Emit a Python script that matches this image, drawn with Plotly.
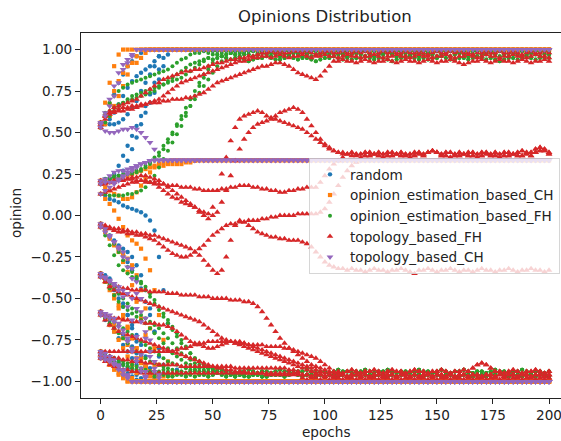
import plotly.graph_objects as go

EPOCH_STEP = 2
N_SAMPLES = 101  # epochs 0..200
SERIES_NAMES = ["random", "opinion_estimation_based_CH", "opinion_estimation_based_FH",
                "topology_based_FH", "topology_based_CH"]
X_TICKS = [0, 25, 50, 75, 100, 125, 150, 175, 200]
Y_TICKS = [-1.0, -0.75, -0.5, -0.25, 0.0, 0.25, 0.5, 0.75, 1.0]

# converged bands (start epoch, values every 2 epochs)
GT_HI = (40, [0.97,0.98,0.98,0.99,0.98,0.99,0.99,0.98,0.99,0.98,
              0.99,0.98,0.98,0.99,0.99,0.98,0.99,0.98,0.98,0.99,
              0.98,0.99,0.99,0.98,0.98,0.99,0.98,0.99,0.99,0.98,
              0.99,0.98,0.98,0.99,0.98,0.99,0.98,0.98,0.99,0.99,
              0.98,0.99,0.98,0.98,0.99,0.98,0.99,0.99,0.98,0.98,
              0.99,0.98,0.99,0.98,0.98,0.99,0.99,0.98,0.99,0.98,
              0.98,0.99,0.98,0.99,0.99,0.98,0.98,0.99,0.98,0.99,
              0.98,0.98,0.99,0.98,0.99,0.98,0.98,0.99,0.98,0.99,
              0.98])
GT_MID = (40, [0.95,0.96,0.96,0.97,0.96,0.97,0.97,0.96,0.97,0.98,
               0.97,0.96,0.97,0.97,0.96,0.97,0.98,0.97,0.96,0.97,
               0.96,0.97,0.97,0.98,0.97,0.96,0.97,0.96,0.97,0.97,
               0.98,0.97,0.96,0.97,0.97,0.96,0.97,0.98,0.97,0.96,
               0.97,0.96,0.97,0.97,0.98,0.97,0.96,0.97,0.96,0.97,
               0.97,0.96,0.97,0.98,0.97,0.96,0.97,0.97,0.96,0.97,
               0.98,0.97,0.96,0.97,0.96,0.97,0.97,0.98,0.97,0.96,
               0.97,0.96,0.97,0.97,0.96,0.97,0.98,0.97,0.96,0.97,
               0.97])
GT_LO = (40, [0.93,0.94,0.94,0.95,0.95,0.94,0.95,0.96,0.95,0.94,
              0.95,0.95,0.94,0.93,0.94,0.95,0.95,0.96,0.95,0.94,
              0.94,0.95,0.96,0.95,0.94,0.95,0.95,0.94,0.93,0.94,
              0.95,0.95,0.96,0.95,0.94,0.95,0.94,0.95,0.95,0.96,
              0.95,0.94,0.95,0.95,0.94,0.93,0.94,0.95,0.95,0.96,
              0.95,0.94,0.95,0.94,0.95,0.95,0.96,0.95,0.94,0.94,
              0.95,0.95,0.94,0.95,0.96,0.95,0.94,0.95,0.94,0.93,
              0.94,0.95,0.95,0.94,0.95,0.96,0.95,0.94,0.95,0.95,
              0.95])
GB_HI = (20, [-0.94,-0.94,-0.95,-0.94,-0.93,-0.94,-0.95,-0.94,-0.94,-0.95,
              -0.94,-0.93,-0.94,-0.94,-0.95,-0.94,-0.94,-0.93,-0.94,-0.95,
              -0.95,-0.94,-0.94,-0.93,-0.94,-0.95,-0.94,-0.94,-0.95,-0.94,
              -0.93,-0.94,-0.94,-0.95,-0.94,-0.94,-0.93,-0.94,-0.95,-0.94,
              -0.94,-0.95,-0.94,-0.93,-0.94,-0.94,-0.95,-0.94,-0.94,-0.93,
              -0.94,-0.95,-0.94,-0.94,-0.93,-0.94,-0.95,-0.94,-0.94,-0.95,
              -0.94,-0.93,-0.94,-0.94,-0.95,-0.94,-0.93,-0.94,-0.95,-0.94,
              -0.94,-0.93,-0.94,-0.95,-0.94,-0.94,-0.95,-0.94,-0.93,-0.94,
              -0.94,-0.95,-0.94,-0.94,-0.93,-0.94,-0.95,-0.94,-0.94,-0.95,
              -0.94])
GB_LO = (20, [-0.96,-0.96,-0.97,-0.96,-0.96,-0.97,-0.97,-0.96,-0.96,-0.97,
              -0.96,-0.97,-0.96,-0.96,-0.97,-0.96,-0.95,-0.96,-0.97,-0.96,
              -0.97,-0.96,-0.96,-0.97,-0.96,-0.96,-0.97,-0.97,-0.96,-0.96,
              -0.96,-0.97,-0.96,-0.95,-0.96,-0.97,-0.96,-0.96,-0.97,-0.96,
              -0.97,-0.96,-0.96,-0.97,-0.96,-0.97,-0.96,-0.96,-0.95,-0.96,
              -0.96,-0.97,-0.96,-0.96,-0.97,-0.96,-0.97,-0.96,-0.96,-0.97,
              -0.96,-0.96,-0.97,-0.96,-0.95,-0.96,-0.97,-0.96,-0.96,-0.97,
              -0.97,-0.96,-0.96,-0.97,-0.96,-0.96,-0.97,-0.96,-0.96,-0.95,
              -0.96,-0.97,-0.96,-0.96,-0.97,-0.96,-0.96,-0.97,-0.96,-0.96,
              -0.97])
RT_HI = (70, [0.97,0.98,0.98,0.99,0.98,0.99,0.98,0.98,0.99,0.99,
              0.98,0.99,0.98,0.97,0.98,0.99,0.99,0.98,0.98,0.99,
              0.98,0.98,0.99,0.98,0.99,0.98,0.97,0.98,0.99,0.98,
              0.99,0.98,0.98,0.99,0.98,0.98,0.99,0.98,0.97,0.98,
              0.99,0.98,0.98,0.99,0.98,0.99,0.98,0.98,0.97,0.98,
              0.98,0.99,0.98,0.98,0.99,0.98,0.98,0.99,0.98,0.97,
              0.98,0.99,0.98,0.98,0.99,0.98])
RT_MID = (70, [0.95,0.96,0.96,0.95,0.96,0.97,0.96,0.95,0.96,0.96,
               0.97,0.96,0.95,0.96,0.96,0.97,0.96,0.96,0.95,0.96,
               0.97,0.96,0.96,0.95,0.96,0.96,0.97,0.96,0.95,0.96,
               0.96,0.97,0.96,0.96,0.95,0.96,0.97,0.96,0.96,0.95,
               0.96,0.96,0.97,0.96,0.95,0.96,0.96,0.97,0.96,0.95,
               0.96,0.97,0.96,0.96,0.95,0.96,0.96,0.97,0.96,0.96,
               0.95,0.96,0.97,0.96,0.96,0.95])
RT_LO = (70, [0.93,0.94,0.93,0.92,0.93,0.94,0.93,0.93,0.92,0.93,
              0.94,0.93,0.92,0.93,0.93,0.94,0.93,0.92,0.93,0.94,
              0.93,0.93,0.92,0.93,0.94,0.93,0.92,0.93,0.93,0.94,
              0.93,0.92,0.93,0.94,0.93,0.93,0.92,0.93,0.94,0.93,
              0.92,0.93,0.93,0.94,0.93,0.92,0.91,0.92,0.93,0.93,
              0.94,0.93,0.92,0.93,0.94,0.93,0.93,0.92,0.93,0.94,
              0.93,0.92,0.93,0.93,0.94,0.93])
RB_HI = (90, [-0.93,-0.94,-0.93,-0.94,-0.95,-0.94,-0.93,-0.94,-0.94,-0.95,
              -0.94,-0.93,-0.94,-0.95,-0.94,-0.94,-0.93,-0.94,-0.95,-0.94,
              -0.93,-0.94,-0.94,-0.95,-0.94,-0.93,-0.94,-0.94,-0.95,-0.94,
              -0.94,-0.93,-0.94,-0.95,-0.94,-0.94,-0.93,-0.94,-0.92,-0.90,
              -0.89,-0.90,-0.92,-0.94,-0.94,-0.95,-0.94,-0.93,-0.94,-0.95,
              -0.94,-0.94,-0.93,-0.94,-0.95,-0.94])
RB_MID = (90, [-0.96,-0.96,-0.97,-0.96,-0.96,-0.97,-0.96,-0.97,-0.96,-0.96,
               -0.97,-0.96,-0.96,-0.97,-0.96,-0.97,-0.96,-0.96,-0.97,-0.96,
               -0.96,-0.97,-0.96,-0.96,-0.97,-0.96,-0.97,-0.96,-0.96,-0.97,
               -0.96,-0.96,-0.97,-0.96,-0.97,-0.96,-0.96,-0.97,-0.96,-0.96,
               -0.97,-0.96,-0.96,-0.97,-0.96,-0.97,-0.96,-0.96,-0.97,-0.96,
               -0.96,-0.97,-0.96,-0.96,-0.97,-0.96])
RB_LO = (90, [-0.98,-0.99,-0.98,-0.98,-0.99,-0.98,-0.99,-0.98,-0.98,-0.99,
              -0.98,-0.98,-0.99,-0.98,-0.99,-0.98,-0.98,-0.99,-0.98,-0.98,
              -0.99,-0.98,-0.99,-0.98,-0.98,-0.99,-0.98,-0.98,-0.99,-0.98,
              -0.99,-0.98,-0.98,-0.99,-0.98,-0.98,-0.99,-0.98,-0.99,-0.98,
              -0.98,-0.99,-0.98,-0.98,-0.99,-0.98,-0.99,-0.98,-0.98,-0.99,
              -0.98,-0.98,-0.99,-0.98,-0.99,-0.98])
RM_A = (100, [0.37,0.38,0.37,0.38,0.38,0.37,0.38,0.37,0.37,0.38,
              0.38,0.37,0.38,0.37,0.38,0.38,0.37,0.38,0.37,0.37,
              0.38,0.38,0.37,0.38,0.39,0.38,0.37,0.38,0.38,0.37,
              0.38,0.37,0.38,0.38,0.37,0.38,0.38,0.37,0.38,0.37,
              0.38,0.38,0.37,0.38,0.39,0.38,0.38,0.40,0.41,0.39,
              0.38])
RM_B = (100, [0.35,0.36,0.36,0.35,0.36,0.37,0.36,0.36,0.35,0.36,
              0.36,0.37,0.36,0.35,0.36,0.36,0.37,0.36,0.36,0.35,
              0.36,0.37,0.36,0.38,0.39,0.38,0.36,0.36,0.35,0.36,
              0.36,0.37,0.36,0.36,0.35,0.36,0.37,0.36,0.36,0.35,
              0.36,0.36,0.37,0.36,0.36,0.37,0.36,0.38,0.39,0.40,
              0.37])
RN = (100, [-0.32,-0.33,-0.32,-0.33,-0.34,-0.33,-0.32,-0.33,-0.33,-0.34,
            -0.33,-0.32,-0.33,-0.33,-0.34,-0.33,-0.33,-0.32,-0.33,-0.34,
            -0.35,-0.33,-0.33,-0.32,-0.33,-0.34,-0.33,-0.33,-0.32,-0.33,
            -0.34,-0.33,-0.33,-0.34,-0.33,-0.32,-0.33,-0.33,-0.34,-0.33,
            -0.33,-0.32,-0.33,-0.34,-0.33,-0.33,-0.32,-0.33,-0.33,-0.34,
            -0.33])

# (value, n) = value held for n samples; (value, None) = held until epoch 200
RANDOM = [
    [0.56,0.56,0.55,0.55,0.56,0.58,0.61,0.65,0.69,0.75,0.80,0.85,0.90,0.96,(1.0,None)],
    [0.55,0.60,0.67,0.73,0.80,0.85,0.90,0.93,0.96,0.98,(1.0,None)],
    [0.53,0.55,0.58,0.62,0.67,0.72,0.77,0.81,0.84,0.86,0.88,0.90,0.93,0.96,(1.0,None)],
    [0.21,0.22,0.22,0.23,0.24,0.27,0.33,0.40,0.47,0.55,0.62,0.68,0.74,0.82,0.90,0.97,(1.0,None)],
    [0.19,0.20,0.22,0.25,0.30,0.36,0.42,0.48,0.54,0.60,0.66,0.73,0.80,0.88,0.95,(1.0,None)],
    [0.13,0.12,0.10,0.09,0.08,0.06,0.05,0.04,0.03,0.02,0.00,-0.03,-0.09,-0.25,-0.45,-0.65,-0.82,-0.93,(-1.0,None)],
    [-0.05,-0.08,-0.12,-0.16,-0.20,-0.24,-0.28,-0.33,-0.38,-0.44,-0.52,-0.60,-0.70,-0.80,-0.90,-0.96,(-1.0,None)],
    [-0.07,-0.10,-0.13,-0.15,-0.18,-0.20,-0.22,-0.25,-0.30,-0.36,-0.45,-0.56,-0.70,-0.85,-0.95,(-1.0,None)],
    [-0.35,-0.38,-0.42,-0.45,-0.50,-0.55,-0.60,-0.66,-0.72,-0.78,-0.85,-0.92,-0.97,(-1.0,None)],
    [-0.37,-0.36,-0.38,-0.42,-0.47,-0.53,-0.60,-0.68,-0.76,-0.84,-0.91,-0.96,(-1.0,None)],
    [-0.58,-0.60,-0.63,-0.67,-0.70,-0.72,-0.75,-0.79,-0.83,-0.87,-0.91,-0.95,-0.98,(-1.0,None)],
    [-0.60,-0.63,-0.66,-0.70,-0.74,-0.78,-0.82,-0.86,-0.90,-0.94,-0.97,(-1.0,None)],
    [-0.82,-0.83,-0.85,-0.86,-0.88,-0.90,-0.92,-0.94,-0.96,-0.98,(-1.0,None)],
    [-0.84,-0.86,-0.87,-0.89,-0.91,-0.93,-0.95,-0.97,-0.99,(-1.0,None)],
    [-0.86,-0.85,-0.87,-0.90,-0.93,-0.96,-0.98,(-1.0,None)],
]
OPINION_CH = [
    [0.56,0.68,0.80,0.90,0.97,(1.0,None)],
    [0.55,0.60,0.67,0.75,0.81,0.86,0.90,0.92,0.92,0.95,0.98,(1.0,None)],
    [0.53,0.55,0.60,0.66,0.72,0.78,0.85,0.92,0.96,(1.0,None)],
    [0.21,0.20,0.20,0.21,0.22,0.23,0.24,0.25,0.26,0.27,0.28,0.29,0.30,0.30,0.30,0.31,0.31,0.31,0.31,0.32,0.32,0.33,(0.333,None)],
    [0.19,0.17,0.15,0.13,0.12,0.10,0.10,0.11,0.14,0.18,0.22,0.26,0.29,0.31,0.32,0.33,(0.333,None)],
    [0.13,0.10,0.07,0.03,-0.02,-0.07,-0.12,-0.15,-0.17,-0.20,-0.26,-0.33,-0.45,-0.60,-0.75,-0.88,-0.96,(-1.0,None)],
    [-0.05,-0.09,-0.13,-0.17,-0.20,-0.23,-0.26,-0.30,-0.36,-0.45,-0.56,-0.68,-0.80,-0.90,-0.97,(-1.0,None)],
    [-0.07,-0.10,-0.14,-0.18,-0.22,-0.28,-0.34,-0.42,-0.52,-0.62,-0.72,-0.82,-0.90,-0.96,(-1.0,None)],
    [-0.35,-0.40,-0.45,-0.50,-0.56,-0.62,-0.68,-0.74,-0.80,-0.86,-0.92,-0.97,(-1.0,None)],
    [-0.37,-0.39,-0.43,-0.48,-0.54,-0.60,-0.67,-0.74,-0.80,-0.86,-0.91,-0.94,-0.97,(-1.0,None)],
    [-0.58,-0.62,-0.66,-0.70,-0.75,-0.80,-0.85,-0.90,-0.95,(-1.0,None)],
    [-0.60,-0.60,-0.62,-0.66,-0.70,-0.74,-0.78,-0.82,-0.86,-0.89,-0.91,-0.94,-0.97,(-1.0,None)],
    [-0.82,-0.86,-0.90,-0.93,-0.96,-0.98,(-1.0,None)],
    [-0.84,-0.86,-0.88,-0.90,-0.93,-0.95,-0.97,-0.98,(-1.0,None)],
    [-0.86,-0.87,-0.90,-0.92,-0.95,-0.98,(-1.0,None)],
]
OPINION_FH = [
    ([0.56,0.60,0.63,0.65,0.67,0.68,0.69,0.70,0.71,0.72,0.73,0.74,0.75,0.77,0.79,0.81,0.83,0.85,0.87,0.89,
      0.91,0.92,0.93,0.94,0.95], GT_MID),
    ([0.55,0.62,0.68,0.72,0.75,0.77,0.79,0.80,0.81,0.82,0.83,0.84,0.85,0.86,0.87,0.88,0.90,0.92,0.94,0.95], GT_HI),
    ([0.53,0.56,0.60,0.63,0.66,0.68,0.70,0.72,0.73,0.74,0.75,0.76,0.77,0.78,0.79,0.80,0.81,0.82,0.83,0.85,
      0.87,0.89,0.91,0.93], GT_LO),
    ([0.21,0.22,0.23,0.24,0.24,0.25,0.25,0.26,0.27,0.28,0.30,0.32,0.35,0.38,0.42,0.46,0.50,0.54,0.58,0.62,
      0.66,0.70,0.74,0.78,0.82,0.86,0.90,0.93,0.95], GT_HI),
    ([0.19,0.20,0.22,0.23,0.24,0.24,0.25,0.25,0.26,0.27,0.29,0.31,0.33,0.36,0.40,0.44,0.49,0.55,0.60,0.65,
      0.70,0.75,0.80,0.85,0.90,0.94], GT_MID),
    ([0.13,0.13,0.12,0.12,0.12,0.12,0.13,0.13,0.14,0.15,0.17,0.20,0.24,0.29,0.34,0.39,0.44,0.49,0.54,0.60,
      0.66,0.72,0.78,0.83,0.88,0.92], GT_LO),
    ([-0.05,-0.08,-0.12,-0.17,-0.22,-0.27,-0.31,-0.34,-0.37,-0.40,-0.43,-0.47,-0.51,-0.55,-0.59,-0.63,-0.67,-0.71,-0.75,-0.79,
      -0.83,-0.86,-0.88,-0.90,-0.92,-0.93,-0.94], GB_HI),
    ([-0.07,-0.12,-0.18,-0.24,-0.30,-0.33,-0.35,-0.37,-0.39,-0.41,-0.45,-0.49,-0.53,-0.57,-0.61,-0.65,-0.69,-0.73,-0.77,-0.80,
      -0.83,-0.86,-0.88,-0.90,-0.91,-0.92,-0.93,-0.94,-0.95,-0.95], GB_LO),
    ([-0.35,-0.38,-0.41,-0.44,-0.47,-0.50,-0.53,-0.56,-0.58,-0.60,-0.62,-0.64,-0.66,-0.68,-0.71,-0.74,-0.77,-0.80,-0.83,-0.85,
      -0.87,-0.89,-0.90,-0.91,-0.92,-0.93,-0.94,-0.95,-0.95,-0.96,-0.96,-0.96,-0.97], GB_LO),
    ([-0.37,-0.40,-0.44,-0.48,-0.52,-0.55,-0.57,-0.59,-0.61,-0.63,-0.65,-0.68,-0.71,-0.74,-0.77,-0.80,-0.83,-0.85,-0.87,-0.89,
      -0.90,-0.91,-0.92,-0.93,-0.94], GB_HI),
    ([-0.58,-0.60,-0.62,-0.64,-0.66,-0.68,-0.70,-0.72,-0.74,-0.76,-0.78,-0.80,-0.82,-0.84,-0.86,-0.88,-0.89,-0.90,-0.91,-0.92,
      -0.93,-0.94], GB_LO),
    ([-0.60,-0.62,-0.65,-0.68,-0.71,-0.74,-0.77,-0.80,-0.82,-0.84,-0.86,-0.88,-0.89,-0.90,-0.91,-0.92,-0.93,-0.94], GB_HI),
    ([-0.82,-0.84,-0.85,-0.86,-0.87,-0.88,-0.89,-0.90,-0.91,-0.92,-0.93,-0.94,-0.95], GB_LO),
    ([-0.84,-0.86,-0.87,-0.88,-0.89,-0.90,-0.91,-0.92,-0.93,-0.93,-0.94,-0.94], GB_LO),
    ([-0.86,-0.86,-0.87,-0.88,-0.89,-0.90,-0.91,-0.92,-0.93,-0.94], GB_HI),
]
TOPOLOGY_FH = [
    ([0.56,0.60,0.63,0.65,0.66,0.67,0.68,0.69,0.70,0.72,0.74,0.76,0.78,0.80,0.82,0.83,0.84,0.85,0.86,0.87,
      0.87,0.88,0.88,0.89,0.90,0.91,0.92,0.92,0.93,0.94,0.94,0.95,0.95,0.96,0.96], RT_HI),
    ([0.55,0.60,0.62,0.63,0.64,0.65,0.65,0.66,0.66,0.67,0.67,0.68,0.68,0.68,0.69,0.69,0.70,0.70,0.70,0.71,
      0.71,0.72,0.73,0.74,0.76,0.78,0.80,0.81,0.82,0.83,0.84,0.85,0.86,0.87,0.88,0.89,0.90,0.90,0.91,0.92,
      0.92,0.91,0.90,0.88,0.86,0.85,0.84,0.83,0.82,0.84,0.87,0.90,0.93], RT_LO),
    ([0.53,0.58,0.61,0.62,0.63,0.63,0.64,0.64,0.65,0.66,0.67,0.68,0.69,0.70,0.72,0.74,0.76,0.78,0.80,0.81,
      0.82,0.83,0.84,0.85,0.86,0.87,0.88,0.89,0.90,0.91,0.92,0.93,0.93,0.94,0.95], RT_MID),
    ([0.21,0.20,0.20,0.21,0.21,0.22,0.22,0.23,0.23,0.24,0.24,0.23,0.22,0.21,0.19,0.17,0.15,0.13,0.11,0.09,
      0.07,0.05,0.02,0.00,-0.02,0.05,0.15,0.25,0.35,0.45,0.53,0.58,0.60,0.61,0.62,0.63,0.62,0.60,0.59,0.60,
      0.62,0.63,0.64,0.65,0.64,0.62,0.58,0.54,0.50,0.46,0.43,0.41,0.39,0.38,0.37], RM_A),
    ([0.19,0.19,0.20,0.20,0.21,0.21,0.22,0.22,0.21,0.21,0.20,0.20,0.20,0.19,0.19,0.18,0.18,0.18,0.17,0.17,
      0.17,0.16,0.16,0.15,0.15,0.15,0.15,0.16,0.16,0.17,0.17,0.18,0.18,0.18,0.17,0.17,0.16,0.16,0.15,0.15,
      0.14,0.14,0.15,0.15,0.16,0.16,0.17,0.17,0.17,0.20,0.24,0.28,0.31,0.33,0.35], RM_B),
    ([0.13,0.14,0.15,0.16,0.17,0.18,0.19,0.20,0.20,0.21,0.21,0.20,0.19,0.17,0.15,0.13,0.11,0.10,0.08,0.07,
      0.06,0.05,0.03,0.02,0.01,0.00,0.02,0.08,0.15,0.24,0.33,0.40,0.46,0.50,0.53,0.55,0.56,0.57,0.58,0.58,
      0.57,0.56,0.55,0.54,0.53,0.52,0.50,0.48,0.46,0.44,0.42,0.40,0.39,0.38,0.38,0.37], RM_A),
    ([-0.05,-0.06,-0.07,-0.08,-0.08,-0.09,-0.09,-0.10,-0.10,-0.11,-0.11,-0.12,-0.12,-0.13,-0.14,-0.15,-0.16,-0.17,-0.18,-0.19,
      -0.20,-0.22,-0.24,-0.27,-0.30,-0.33,-0.35,-0.33,-0.25,-0.15,-0.06,-0.03,-0.04,-0.06,-0.08,-0.10,-0.11,-0.12,-0.13,-0.13,
      -0.14,-0.14,-0.15,-0.15,-0.15,-0.16,-0.17,-0.19,-0.22,-0.25,-0.28,-0.30,-0.31,-0.32,-0.32], RN),
    ([-0.07,-0.07,-0.08,-0.09,-0.10,-0.10,-0.11,-0.11,-0.12,-0.12,-0.13,-0.14,-0.15,-0.17,-0.19,-0.21,-0.23,-0.24,-0.25,-0.25,
      -0.24,-0.22,-0.20,-0.18,-0.15,-0.12,-0.10,-0.08,-0.06,-0.05,-0.05,-0.04,-0.04,-0.03,-0.03,-0.03,-0.02,-0.02,-0.01,-0.01,
      0.00,0.00,0.00,0.00,0.01,0.01,0.01,0.01,0.01,0.02,0.04,0.08,0.13,0.18,0.23,0.27,0.30,0.32,0.34], RM_B),
    ([-0.35,-0.38,-0.40,-0.42,-0.43,-0.44,-0.44,-0.45,-0.45,-0.45,-0.45,-0.46,-0.46,-0.46,-0.46,-0.47,-0.47,-0.47,-0.48,-0.48,
      -0.48,-0.48,-0.49,-0.49,-0.49,-0.50,-0.50,-0.50,-0.50,-0.51,-0.51,-0.51,-0.52,-0.52,-0.53,-0.55,-0.58,-0.62,-0.66,-0.70,
      -0.74,-0.77,-0.80,-0.82,-0.84,-0.86,-0.88,-0.90,-0.91,-0.92,-0.93,-0.94,-0.95], RB_HI),
    ([-0.37,-0.40,-0.43,-0.45,-0.46,-0.47,-0.48,-0.49,-0.50,-0.51,-0.52,-0.53,-0.54,-0.55,-0.56,-0.57,-0.58,-0.59,-0.60,-0.61,
      -0.62,-0.63,-0.64,-0.66,-0.68,-0.70,-0.72,-0.74,-0.75,-0.76,-0.77,-0.78,-0.79,-0.80,-0.81,-0.82,-0.83,-0.84,-0.85,-0.86,
      -0.87,-0.88,-0.89,-0.90,-0.91,-0.92,-0.93,-0.94,-0.95], RB_MID),
    ([-0.58,-0.60,-0.61,-0.62,-0.62,-0.63,-0.63,-0.64,-0.64,-0.64,-0.65,-0.65,-0.65,-0.66,-0.66,-0.67,-0.68,-0.70,-0.72,-0.74,
      -0.76,-0.77,-0.78,-0.79,-0.80,-0.80,-0.79,-0.78,-0.77,-0.76,-0.76,-0.76,-0.77,-0.78,-0.79,-0.80,-0.81,-0.82,-0.83,-0.84,
      -0.85,-0.86,-0.87,-0.88,-0.89,-0.90,-0.91,-0.92,-0.93,-0.94,-0.95,-0.96], RB_LO),
    ([-0.60,-0.63,-0.66,-0.68,-0.70,-0.71,-0.72,-0.73,-0.74,-0.75,-0.76,-0.77,-0.78,-0.79,-0.80,-0.81,-0.82,-0.83,-0.84,-0.85,
      -0.86,-0.87,-0.88,-0.89,-0.90,-0.91,-0.92,-0.92,-0.93,-0.93,-0.94,-0.94,-0.94,-0.95,-0.95,-0.95,-0.95,-0.96,-0.96,-0.96,
      -0.96,-0.96,-0.96,-0.96,-0.96], RB_MID),
    ([(-0.82,17),-0.81,-0.80,-0.80,-0.79,-0.78,-0.77,-0.77,-0.76,-0.76,-0.76,-0.76,-0.76,-0.76,-0.77,-0.77,-0.77,-0.78,-0.78,
      -0.78,-0.78,-0.79,-0.79,-0.79,-0.79,-0.80,-0.80,-0.81,-0.82,-0.83,-0.84,-0.85,-0.86,-0.88,-0.90,-0.92,-0.94,-0.95,-0.96], RB_HI),
    ([-0.84,-0.85,-0.85,-0.86,-0.86,-0.87,-0.87,-0.88,-0.88,-0.88,-0.89,-0.89,-0.89,(-0.90,5),(-0.91,12),(-0.92,12),
      -0.93,-0.93,-0.94], RB_LO),
    ([-0.86,-0.88,-0.90,-0.91,-0.92,-0.93,-0.93,-0.94,-0.94,-0.95,(-0.95,35)], RB_MID),
]
TOPOLOGY_CH = [
    [0.56,0.62,0.70,0.78,0.86,0.91,0.94,0.97,(1.0,None)],
    [0.55,0.60,0.66,0.72,0.80,0.88,0.92,0.96,(1.0,None)],
    [0.53,0.51,0.50,0.50,0.51,0.52,0.52,0.53,0.52,0.50,0.47,0.44,0.40,(0.333,None)],
    [0.21,0.22,0.24,0.26,0.27,0.27,0.28,0.29,0.30,0.31,0.32,0.33,(0.333,None)],
    [0.19,0.20,0.20,0.20,0.22,0.24,0.26,0.28,0.30,0.31,0.32,0.33,(0.333,None)],
    [0.13,0.15,0.17,0.19,0.21,0.23,0.25,0.27,0.29,0.31,0.32,0.33,(0.333,None)],
    [-0.05,-0.08,-0.12,-0.16,-0.19,-0.22,-0.26,-0.32,-0.40,-0.50,-0.62,-0.75,-0.88,-0.96,(-1.0,None)],
    [-0.07,-0.10,-0.13,-0.16,-0.20,-0.25,-0.31,-0.38,-0.47,-0.58,-0.70,-0.82,-0.92,-0.98,(-1.0,None)],
    [-0.35,-0.37,-0.39,-0.41,-0.43,-0.45,-0.47,-0.50,-0.56,-0.64,-0.74,-0.85,-0.94,(-1.0,None)],
    [-0.37,-0.38,-0.40,-0.42,-0.45,-0.49,-0.55,-0.63,-0.73,-0.84,-0.94,(-1.0,None)],
    [-0.58,-0.59,-0.60,-0.62,-0.65,-0.69,-0.74,-0.80,-0.86,-0.92,-0.97,(-1.0,None)],
    [-0.60,-0.61,-0.62,-0.64,-0.67,-0.71,-0.76,-0.82,-0.88,-0.94,-0.98,(-1.0,None)],
    [-0.82,-0.83,-0.85,-0.87,-0.90,-0.93,-0.96,(-1.0,None)],
    [-0.84,-0.85,-0.87,-0.89,-0.91,-0.94,-0.97,(-1.0,None)],
    [-0.86,-0.87,-0.88,-0.90,-0.93,-0.96,-0.98,(-1.0,None)],
]


def expand(agent):
    band = None
    if isinstance(agent, tuple):
        agent, band = agent
    out = []
    for item in agent:
        if isinstance(item, tuple):
            v, k = item
            k = N_SAMPLES - len(out) if k is None else k
            out.extend([v] * k)
        else:
            out.append(item)
    if band is not None:
        start, vals = band
        out.extend(vals[len(out) - start // EPOCH_STEP:])
    return out[:N_SAMPLES]


def series_xy(agents):
    xs, ys = [], []
    for a in agents:
        vals = expand(a)
        xs.extend(i * EPOCH_STEP for i in range(len(vals)))
        ys.extend(vals)
    return xs, ys


STYLES = [
    (RANDOM, "#1f77b4", "circle", 4.4),
    (OPINION_CH, "#ff7f0e", "square", 4.2),
    (OPINION_FH, "#2ca02c", "circle", 4),
    (TOPOLOGY_FH, "#d62728", "triangle-up", 5.8),
    (TOPOLOGY_CH, "#9467bd", "triangle-down", 6),
]

fig = go.Figure()
for name, (agents, color, symbol, size) in zip(SERIES_NAMES, STYLES):
    xs, ys = series_xy(agents)
    fig.add_trace(go.Scatter(x=xs, y=ys, mode="markers", name=name,
                             marker=dict(color=color, symbol=symbol, size=size, line=dict(width=0))))

FONT = "DejaVu Sans"
TXT = "#222222"
W, H = 561, 441
ML, MR, MT, MB = 81, 0, 33, 43
PW, PH = W - ML - MR, H - MT - MB

axis_common = dict(showgrid=False, zeroline=False, showline=True, linecolor="#222222", linewidth=1,
                   ticks="outside", ticklen=5, tickwidth=1, tickcolor="#222222",
                   tickfont=dict(family=FONT, size=13.6, color=TXT))

fig.update_layout(
    width=W, height=H,
    margin=dict(l=ML, r=MR, t=MT, b=MB, pad=0),
    paper_bgcolor="white", plot_bgcolor="white",
    font=dict(family=FONT, size=13.6, color=TXT),
    xaxis=dict(range=[-8.79, 205.35], tickvals=X_TICKS, mirror=True, ticklabeloverflow="allow",
               ticklabelstandoff=0, **axis_common),
    yaxis=dict(range=[-1.1, 1.1], tickvals=Y_TICKS, tickformat=".2f", **axis_common),
    legend=dict(x=(309 - ML) / PW, y=(H - MB - 158) / PH, xanchor="left", yanchor="top",
                bgcolor="rgba(255,255,255,0.8)", bordercolor="rgba(204,204,204,0.8)", borderwidth=1,
                font=dict(family=FONT, size=13.6, color=TXT)),
    annotations=[
        dict(text="Opinions Distribution", x=(324.5 - ML) / PW, y=(H - MB - 16.7) / PH,
             xref="paper", yref="paper", xanchor="center", yanchor="middle", showarrow=False,
             font=dict(family=FONT, size=16.5, color=TXT)),
        dict(text="epochs", x=(325.5 - ML) / PW, y=(H - MB - 431.5) / PH,
             xref="paper", yref="paper", xanchor="center", yanchor="middle", showarrow=False,
             font=dict(family=FONT, size=13.6, color=TXT)),
        dict(text="opinion", x=(16 - ML) / PW, y=(H - MB - 213) / PH, textangle=-90,
             xref="paper", yref="paper", xanchor="center", yanchor="middle", showarrow=False,
             font=dict(family=FONT, size=13.6, color=TXT)),
    ],
)

fig.write_html("out.html")
